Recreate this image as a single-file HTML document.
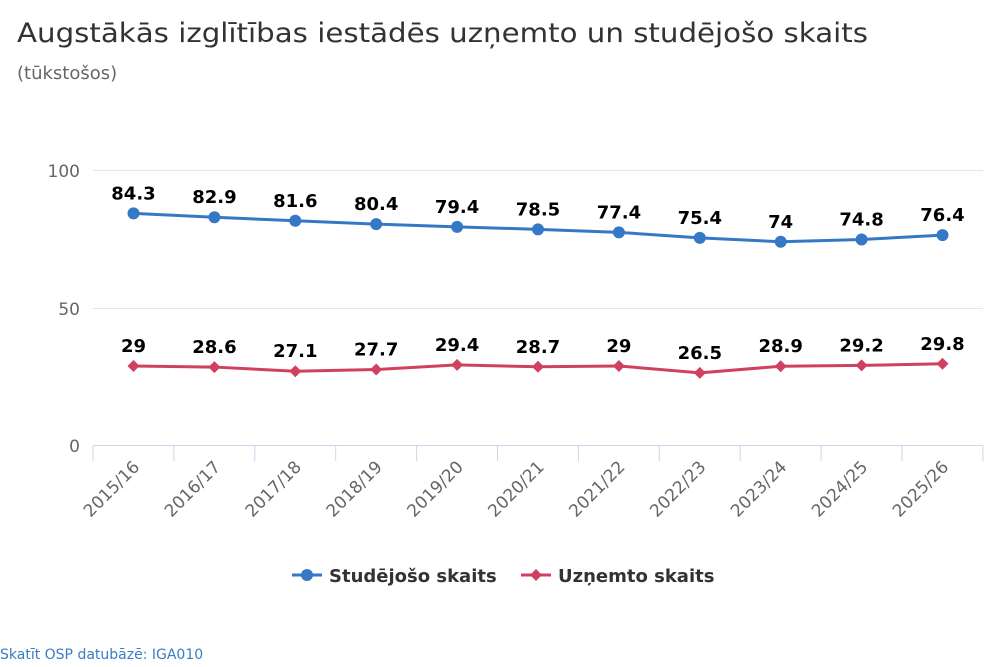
<!DOCTYPE html>
<html><head><meta charset="utf-8"><style>body{margin:0;background:#fff}svg{display:block}</style></head><body>
<svg width="1000" height="667" xmlns="http://www.w3.org/2000/svg" font-family="DejaVu Sans, Liberation Sans, sans-serif">
<text x="17" y="42" font-size="27" fill="#333" textLength="851" lengthAdjust="spacingAndGlyphs">Augstākās izglītības iestādēs uzņemto un studējošo skaits</text>
<text x="17" y="79" font-size="18" fill="#666">(tūkstošos)</text>
<g stroke="#e6e6e6" stroke-width="1">
<line x1="93" y1="170.5" x2="983" y2="170.5"/><line x1="93" y1="308.5" x2="983" y2="308.5"/>
</g>
<line x1="93" y1="445.5" x2="983" y2="445.5" stroke="#ccd6eb"/>
<g stroke="#ccd6eb" id="ticks"></g>
<g font-size="17" fill="#666" text-anchor="end">
<text x="80" y="177">100</text><text x="80" y="315">50</text><text x="80" y="452">0</text>
</g>
<g id="xl" font-size="17" fill="#666"></g>
<polyline id="l1" fill="none" stroke="#3579c6" stroke-width="3"/>
<polyline id="l2" fill="none" stroke="#d0405f" stroke-width="3"/>
<g id="m"></g>
<g id="lab" font-size="18" font-weight="bold" fill="#000" text-anchor="middle"></g>
<line x1="292" y1="575" x2="322" y2="575" stroke="#3579c6" stroke-width="3"/><circle cx="307" cy="575" r="6" fill="#3579c6"/>
<text x="329" y="582" font-size="18" font-weight="bold" fill="#333">Studējošo skaits</text>
<line x1="521" y1="575" x2="551" y2="575" stroke="#d0405f" stroke-width="3"/><path d="M536 569 L542 575 L536 581 L530 575Z" fill="#d0405f"/>
<text x="558" y="582" font-size="18" font-weight="bold" fill="#333">Uzņemto skaits</text>
<text x="0" y="659" font-size="14" fill="#3a7cc6">Skatīt OSP datubāzē: IGA010</text>
</svg>
<script>
var a=[84.3,82.9,81.6,80.4,79.4,78.5,77.4,75.4,74,74.8,76.4],b=[29,28.6,27.1,27.7,29.4,28.7,29,26.5,28.9,29.2,29.8],
c=['2015/16','2016/17','2017/18','2018/19','2019/20','2020/21','2021/22','2022/23','2023/24','2024/25','2025/26'];
var ns='http://www.w3.org/2000/svg';function el(t,p,g){var e=document.createElementNS(ns,t);for(var k in p)e.setAttribute(k,p[k]);document.getElementById(g).appendChild(e);return e;}
var X=i=>133.5+i*80.9,Y=v=>446-2.76*v;
for(var i=0;i<=11;i++)el('line',{x1:93+i*80.9,x2:93+i*80.9,y1:446,y2:461},'ticks');
var p1=[],p2=[];
for(var i=0;i<11;i++){var x=X(i);p1.push(x+','+Y(a[i]));p2.push(x+','+Y(b[i]));
var t=el('text',{x:0,y:0,'text-anchor':'end',transform:'translate('+(x+7)+',468) rotate(-45)'},'xl');t.textContent=c[i];
el('circle',{cx:x,cy:Y(a[i]),r:6,fill:'#3579c6'},'m');
var y=Y(b[i]);el('path',{d:'M'+x+' '+(y-6)+' L'+(x+6)+' '+y+' L'+x+' '+(y+6)+' L'+(x-6)+' '+y+'Z',fill:'#d0405f'},'m');
el('text',{x:x,y:Y(a[i])-14},'lab').textContent=a[i];el('text',{x:x,y:Y(b[i])-14},'lab').textContent=b[i];}
document.getElementById('l1').setAttribute('points',p1.join(' '));document.getElementById('l2').setAttribute('points',p2.join(' '));
</script>
</body></html>
